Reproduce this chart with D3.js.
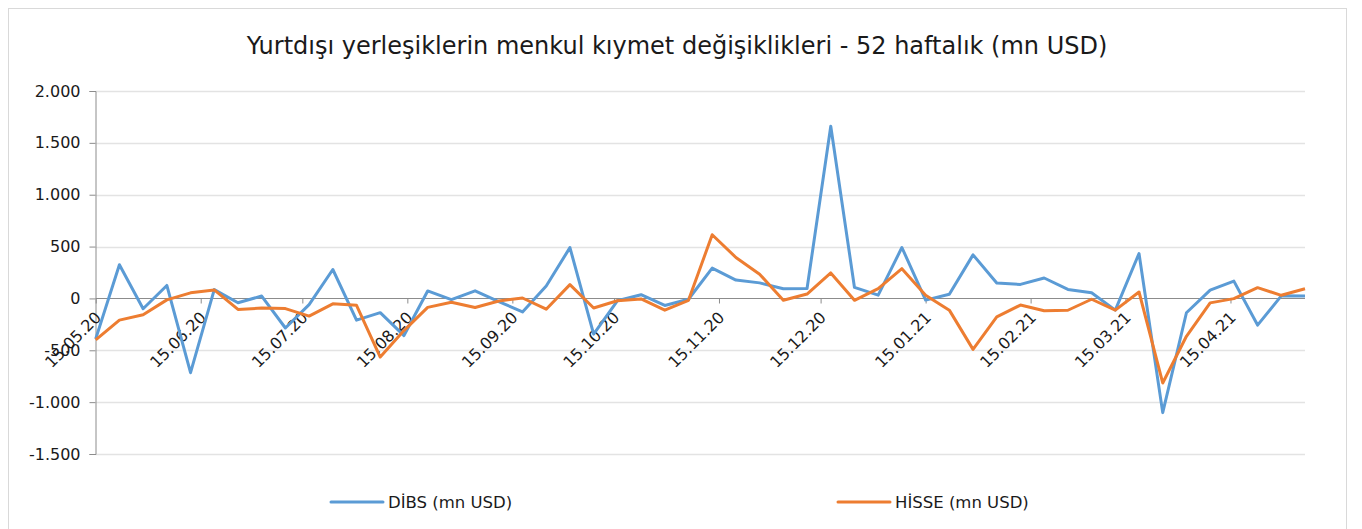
<!DOCTYPE html>
<html>
<head>
<meta charset="utf-8">
<script src="https://cdn.jsdelivr.net/npm/d3@7"></script>
<style>
  body { margin: 0; background: #fff; }
  svg { display: block; font-family: "DejaVu Sans", Verdana, sans-serif; }
</style>
</head>
<body>
<div id="chart"></div>
<script>
// weekly data, first week 15.05.20
var startDate = new Date(2020, 4, 15);
var dibs = [-390, 325, -100, 125, -716, 85, -42, 23, -285, -60,
  279, -209, -137, -358, 72, -12, 73, -30, -130, 120,
  490, -344, -23, 36, -68, -8, 292, 177, 150, 93,
  95, 1660, 106, 32, 491, -16, 40, 420, 148, 135,
  197, 87, 54, -113, 433, -1101, -138, 80, 167, -257,
  25, 24];
var hisse = [-400, -209, -158, -14, 54, 82, -106, -93, -98, -170,
  -52, -66, -565, -310, -86, -37, -88, -25, 4, -104,
  133, -92, -22, -5, -113, -18, 614, 395, 234, -18,
  42, 246, -18, 94, 287, 31, -113, -491, -178, -64,
  -119, -114, -8, -113, 62, -815, -365, -43, -2, 104,
  30, 93];
var yTicks = [-1500, -1000, -500, 0, 500, 1000, 1500, 2000];
var monthTicks = ["15.05.20", "15.06.20", "15.07.20", "15.08.20", "15.09.20", "15.10.20",
  "15.11.20", "15.12.20", "15.01.21", "15.02.21", "15.03.21", "15.04.21"];
var seriesNames = ["DİBS (mn USD)", "HİSSE (mn USD)"];
var colors = ["#5b9bd5", "#ed7d31"];

var W = 1362, H = 529;
var parseDay = d3.timeParse("%d.%m.%y");
var trLocale = d3.formatLocale({ decimal: ",", thousands: ".", grouping: [3], currency: ["", ""], minus: "-" });
var fmt = trLocale.format(",");
var dates = dibs.map(function(d, i) { return d3.timeDay.offset(startDate, i * 7); });

var svg = d3.select("#chart").append("svg").attr("width", W).attr("height", H);

// outer border
svg.append("rect").attr("x", 8.5).attr("y", 8.5).attr("width", 1338).attr("height", 560)
  .attr("fill", "#fff").attr("stroke", "#d9d9d9");

svg.append("text").attr("x", 677).attr("y", 54).attr("text-anchor", "middle")
  .attr("font-size", 24).attr("fill", "#1a1a1a")
  .text("Yurtdışı yerleşiklerin menkul kıymet değişiklikleri - 52 haftalık (mn USD)");

var x = d3.scaleTime().domain([dates[0], dates[dates.length - 1]]).range([95.7, 1305]);
var y = d3.scaleLinear().domain([-1500, 2000]).range([454, 91]);

// gridlines
svg.append("g").selectAll("line").data(yTicks.filter(function(t) { return t !== 0; })).enter()
  .append("line")
  .attr("x1", 95.7).attr("x2", 1305)
  .attr("y1", function(d) { return Math.round(y(d)) + 0.5; })
  .attr("y2", function(d) { return Math.round(y(d)) + 0.5; })
  .attr("stroke", "#e3e3e3").attr("stroke-width", 1.5);

// y axis
var yAxis = d3.axisLeft(y).tickValues(yTicks).tickSize(6).tickPadding(9).tickFormat(fmt);
var gy = svg.append("g").attr("transform", "translate(95.5,0)").call(yAxis);
gy.select(".domain").attr("stroke", "#8c8c8c");
gy.selectAll(".tick line").attr("stroke", "#8c8c8c");
gy.selectAll(".tick text").attr("font-size", 16).attr("fill", "#1a1a1a")
  .attr("font-family", "DejaVu Sans, Verdana, sans-serif");

// x axis on zero line
var xAxis = d3.axisBottom(x).tickValues(monthTicks.map(parseDay)).tickSize(5)
  .tickFormat(d3.timeFormat("%d.%m.%y"));
var gx = svg.append("g").attr("transform", "translate(0," + (Math.round(y(0)) + 0.5) + ")").call(xAxis);
gx.select(".domain").attr("stroke", "#8c8c8c").attr("d", "M95.7,0H1305");
gx.selectAll(".tick line").attr("stroke", "#8c8c8c");
gx.selectAll(".tick text").attr("font-size", 16).attr("fill", "#1a1a1a")
  .attr("font-family", "DejaVu Sans, Verdana, sans-serif")
  .attr("text-anchor", "end").attr("dy", "0.35em")
  .attr("transform", "translate(2,16) rotate(-45)").attr("y", 0).attr("x", 0);

// lines
var line = d3.line().x(function(d, i) { return x(dates[i]); }).y(function(d) { return y(d); });
[dibs, hisse].forEach(function(s, k) {
  svg.append("path").datum(s).attr("d", line).attr("fill", "none")
    .attr("stroke", colors[k]).attr("stroke-width", 3).attr("stroke-linejoin", "round");
});

// legend
var legX = [331, 838];
var leg = svg.append("g").selectAll("g").data(seriesNames).enter().append("g")
  .attr("transform", function(d, i) { return "translate(" + legX[i] + ",502)"; });
leg.append("line").attr("x1", 0).attr("x2", 52).attr("y1", 0).attr("y2", 0)
  .attr("stroke", function(d, i) { return colors[i]; }).attr("stroke-width", 3)
  .attr("stroke-linecap", "round");
leg.append("text").attr("x", 57).attr("y", 0).attr("dy", "0.35em")
  .attr("font-size", 16.5).attr("fill", "#1a1a1a").text(function(d) { return d; });
</script>
</body>
</html>
